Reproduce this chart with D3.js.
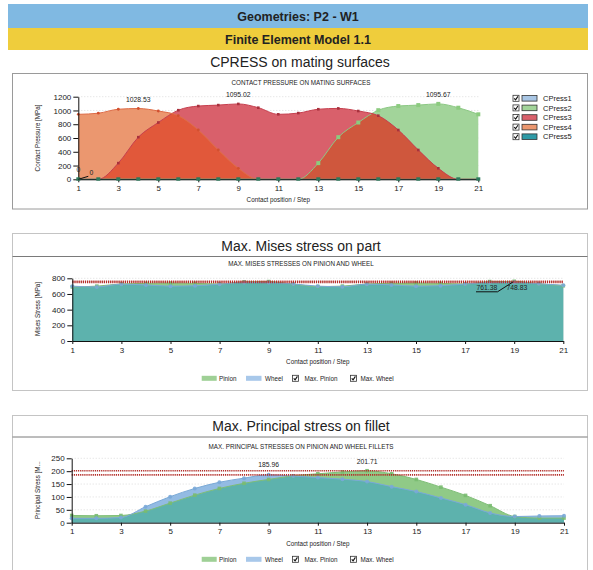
<!DOCTYPE html>
<html>
<head>
<meta charset="utf-8">
<script src="https://cdn.jsdelivr.net/npm/d3@7"></script>
<style>
  body { margin: 0; background: #fff; }
  svg { display: block; font-family: "Liberation Sans", Arial, sans-serif; }
</style>
</head>
<body>
<svg id="c" width="593" height="570"></svg>
<script>
// ---- data ----------------------------------------------------------------
const steps = [1,2,3,4,5,6,7,8,9,10,11,12,13,14,15,16,17,18,19,20,21];
const oddSteps = [1,3,5,7,9,11,13,15,17,19,21];

// Contact pressure on mating surfaces [MPa]
const cpressNames = ["CPress1","CPress2","CPress3","CPress4","CPress5"];
const cpress1 = [0,0,0,0,0,0,0,0,0,0,0,0,0,0,0,0,0,0,0,0,0];
const cpress2 = [0,0,0,0,0,0,0,0,0,0,0,0,235,612,825,1004,1064,1078,1095.67,1040,944];
const cpress3 = [0,0,235,612,825,1004,1064,1078,1095.02,1040,944,962,1018,1030,992,924,716,426,160,0,0];
const cpress4 = [944,960,1018,1028.53,992,924,716,426,160,0,0,0,0,0,0,0,0,0,0,0,0];
const cpress5 = [0,0,0,0,0,0,0,0,0,0,0,0,0,0,0,0,0,0,0,0,0];
const cpressTicks = [0,200,400,600,800,1000,1200];

// Max. Mises stresses on pinion and wheel [MPa]
const misesPinion = [690,700,728,735,740,735,728,755,758,725,695,700,728,736,740,735,728,758,761.38,730,705];
const misesWheel  = [700,690,725,715,700,705,725,748,745,728,700,692,725,716,700,706,726,748,748.83,730,712];
const misesTicks = [0,200,400,600,800];

// Max. principal stresses on pinion and wheel fillets [MPa]
const princPinion = [28,27,28,45,76,107,133,153,168,182,190,197,201.71,190,168,138,106,66,24,18,18];
const princWheel  = [17,17,20,62,101,133,157,173,185.96,181,175,169,160,140,121,96,70,38,24,26,27];
const princTicks = [0,50,100,150,200,250];

// ---- drawing ---------------------------------------------------------------
const svg = d3.select("#c");
const defs = svg.append("defs");
const fmt = d3.format(".2f");
const tickFmt = d3.format("d");
const labelFmt = v => (v === 0 ? "0" : fmt(v));

// header bands
svg.append("rect").attr("x", 8).attr("y", 4).attr("width", 580).attr("height", 24).attr("fill", "#80b9e2");
svg.append("rect").attr("x", 8).attr("y", 28).attr("width", 580).attr("height", 22).attr("fill", "#efcd3c");
svg.append("text").attr("x", 298).attr("y", 20.5).attr("text-anchor", "middle")
  .attr("font-size", 12.5).attr("font-weight", "bold").attr("fill", "#222").text("Geometries: P2 - W1");
svg.append("text").attr("x", 298).attr("y", 43.5).attr("text-anchor", "middle")
  .attr("font-size", 12.5).attr("font-weight", "bold").attr("fill", "#222").text("Finite Element Model 1.1");
svg.append("text").attr("x", 300).attr("y", 67).attr("text-anchor", "middle")
  .attr("font-size", 14).attr("fill", "#222").text("CPRESS on mating surfaces");

function styleAxis(g) {
  g.selectAll("path.domain").attr("stroke", "#111").attr("stroke-width", 1);
  g.selectAll(".tick line").attr("stroke", "#111");
  g.selectAll(".tick text").attr("fill", "#222").attr("font-size", 8)
    .attr("font-family", "'Liberation Sans', Arial, sans-serif");
}

function checkbox(g, x, yc) {
  g.append("rect").attr("x", x).attr("y", yc - 3).attr("width", 6).attr("height", 6)
    .attr("fill", "#fff").attr("stroke", "#333").attr("stroke-width", 0.8);
  g.append("path").attr("d", `M${x + 1.2},${yc} L${x + 2.6},${yc + 1.6} L${x + 4.9},${yc - 1.9}`)
    .attr("fill", "none").attr("stroke", "#111").attr("stroke-width", 1.1);
}

function smallText(g, x, y, txt, anchor = "middle", size = 6.3) {
  return g.append("text").attr("x", x).attr("y", y).attr("text-anchor", anchor)
    .attr("font-size", size).attr("fill", "#222").text(txt);
}

// ---------------- chart 1 : contact pressure ----------------
(function () {
  const g = svg.append("g");
  g.append("rect").attr("x", 12.5).attr("y", 73.5).attr("width", 575).attr("height", 135.5)
    .attr("fill", "#fff").attr("stroke", "#9a9a9a");
  smallText(g, 301, 84.5, "CONTACT PRESSURE ON MATING SURFACES");

  const x = d3.scaleLinear().domain([1, 21]).range([78.3, 478.3]);
  const y = d3.scaleLinear().domain([0, 1200]).range([179.3, 96.7]);

  g.selectAll("line.grid").data(cpressTicks.slice(1)).join("line").attr("class", "grid")
    .attr("x1", x(1)).attr("x2", x(21)).attr("y1", d => y(d)).attr("y2", d => y(d))
    .attr("stroke", "#dcdcdc").attr("stroke-dasharray", "1,2");

  const area = d3.area().x((d, i) => x(steps[i])).y0(y(0)).y1(d => y(d)).curve(d3.curveMonotoneX);
  const line = d3.line().x((d, i) => x(steps[i])).y(d => y(d)).curve(d3.curveMonotoneX);

  defs.append("clipPath").attr("id", "clipC2").append("path").attr("d", area(cpress2));
  defs.append("clipPath").attr("id", "clipC3").append("path").attr("d", area(cpress3));

  g.append("path").attr("d", area(cpress1)).attr("fill", "#a9c6e4");
  g.append("path").attr("d", area(cpress2)).attr("fill", "#a2d49a");
  g.append("path").attr("d", area(cpress3)).attr("fill", "#d9606b");
  g.append("path").attr("d", area(cpress3)).attr("fill", "#cf573d").attr("clip-path", "url(#clipC2)");
  g.append("path").attr("d", area(cpress4)).attr("fill", "#eb976f");
  g.append("path").attr("d", area(cpress4)).attr("fill", "#e1583a").attr("clip-path", "url(#clipC3)");

  // series lines
  g.append("path").attr("d", line(cpress2)).attr("fill", "none").attr("stroke", "#8cc884").attr("stroke-width", 1);
  g.append("path").attr("d", line(cpress3)).attr("fill", "none").attr("stroke", "#c6404f").attr("stroke-width", 1);
  g.append("path").attr("d", line(cpress4)).attr("fill", "none").attr("stroke", "#de6c47").attr("stroke-width", 1);
  g.append("path").attr("d", line(cpress5)).attr("fill", "none").attr("stroke", "#2f8a84").attr("stroke-width", 1);

  // markers
  const pts = arr => arr.map((v, i) => ({ x: steps[i], v })).filter(d => d.v > 0);
  g.selectAll("rect.m2").data(pts(cpress2)).join("rect").attr("class", "m2")
    .attr("x", d => x(d.x) - 2).attr("y", d => y(d.v) - 2).attr("width", 4).attr("height", 4)
    .attr("fill", "#8ccb7f");
  g.selectAll("rect.m3").data(pts(cpress3)).join("rect").attr("class", "m3")
    .attr("x", d => x(d.x) - 1.3).attr("y", d => y(d.v) - 1.3).attr("width", 2.6).attr("height", 2.6)
    .attr("fill", "#a8313d");
  g.selectAll("circle.m4").data(pts(cpress4)).join("circle").attr("class", "m4")
    .attr("cx", d => x(d.x)).attr("cy", d => y(d.v)).attr("r", 1.4).attr("fill", "#d2502f");

  // axes
  const ya = g.append("g").attr("transform", `translate(${x(1)},0)`)
    .call(d3.axisLeft(y).tickValues(cpressTicks).tickFormat(tickFmt).tickSize(5).tickSizeOuter(0).tickPadding(2));
  styleAxis(ya);
  const xa = g.append("g").attr("transform", `translate(0,${y(0)})`)
    .call(d3.axisBottom(x).tickValues(oddSteps).tickFormat(tickFmt).tickSize(3).tickSizeOuter(0).tickPadding(3));
  styleAxis(xa);

  // zero-level markers of CPress5
  g.selectAll("rect.m5").data(cpress5.map((v, i) => ({ x: steps[i], v }))).join("rect").attr("class", "m5")
    .attr("x", d => x(d.x) - 2).attr("y", d => y(d.v) - 2).attr("width", 4).attr("height", 3.4)
    .attr("fill", "#2c7a5c");

  // peak labels
  const series = [cpress1, cpress2, cpress3, cpress4, cpress5];
  const peakOffsets = [[0, -7], [0, -7], [0, -7], [0, -7], [13, -4]];
  series.forEach((s, k) => {
    const i = d3.maxIndex(s);
    const px = x(steps[i]), py = y(s[i]);
    const [dx, dy] = peakOffsets[k];
    if (dx !== 0) {
      g.append("line").attr("x1", px).attr("y1", py).attr("x2", px + dx - 3).attr("y2", py + dy + 1)
        .attr("stroke", "#111").attr("stroke-width", 1);
    }
    smallText(g, px + dx, py + dy, labelFmt(s[i]), "middle", 6.8);
  });

  // axis titles
  smallText(g, 0, 0, "Contact Pressure [MPa]").attr("transform", "translate(40,138) rotate(-90)");
  smallText(g, x(11), 202, "Contact position / Step");

  // legend
  const legColors = ["#a9c6e4", "#a2d49a", "#d9606b", "#eb976f", "#2e9aa6"];
  cpressNames.forEach((n, k) => {
    const yc = 98.3 + k * 9.6;
    checkbox(g, 513, yc);
    g.append("rect").attr("x", 522).attr("y", yc - 2.8).attr("width", 15).attr("height", 5.6)
      .attr("fill", legColors[k]).attr("stroke", "#333").attr("stroke-width", 0.8);
    smallText(g, 543, yc + 2.6, n, "start", 7.5);
  });
})();

// ---------------- charts 2 & 3 : stresses ----------------
function stressChart(o) {
  const g = svg.append("g");
  // panel
  g.append("rect").attr("x", 12.5).attr("y", o.panelTop + 0.5).attr("width", 575).attr("height", o.panelH)
    .attr("fill", "#fff").attr("stroke", "#c4c4c4");
  g.append("line").attr("x1", 12.5).attr("x2", 587.5).attr("y1", o.divider).attr("y2", o.divider)
    .attr("stroke", "#7a7a7a");
  g.append("text").attr("x", 301).attr("y", o.titleY).attr("text-anchor", "middle")
    .attr("font-size", 14).attr("fill", "#222").text(o.title);
  smallText(g, 301, o.subY, o.subtitle);

  const x = d3.scaleLinear().domain([1, 21]).range(o.xr);
  const y = d3.scaleLinear().domain([0, o.ticks[o.ticks.length - 1]]).range(o.yr);

  g.selectAll("line.grid").data(o.ticks.slice(1)).join("line").attr("class", "grid")
    .attr("x1", x(1)).attr("x2", x(21)).attr("y1", d => y(d)).attr("y2", d => y(d))
    .attr("stroke", "#dcdcdc").attr("stroke-dasharray", "1,2");

  const area = d3.area().x((d, i) => x(steps[i])).y0(y(0)).y1(d => y(d)).curve(d3.curveMonotoneX);
  const line = d3.line().x((d, i) => x(steps[i])).y(d => y(d)).curve(d3.curveMonotoneX);

  defs.append("clipPath").attr("id", o.id + "-clip").append("path").attr("d", area(o.pinion));

  g.append("path").attr("d", area(o.pinion)).attr("fill", "#90ca87");
  g.append("path").attr("d", area(o.wheel)).attr("fill", "#93bbe3");
  g.append("path").attr("d", area(o.wheel)).attr("fill", "#5db2ad").attr("clip-path", `url(#${o.id}-clip)`);

  g.append("path").attr("d", line(o.pinion)).attr("fill", "none").attr("stroke", "#7fbe77").attr("stroke-width", 1);
  g.append("path").attr("d", line(o.wheel)).attr("fill", "none").attr("stroke", "#7aa9d6").attr("stroke-width", 1);

  g.selectAll("rect.mp").data(o.pinion).join("rect").attr("class", "mp")
    .attr("x", (d, i) => x(steps[i]) - 1.8).attr("y", d => y(d) - 1.8).attr("width", 3.6).attr("height", 3.6)
    .attr("fill", "#79bb70").attr("opacity", 0.9);
  g.selectAll("circle.mw").data(o.wheel).join("circle").attr("class", "mw")
    .attr("cx", (d, i) => x(steps[i])).attr("cy", d => y(d)).attr("r", 2)
    .attr("fill", "#7aa8d8").attr("opacity", 0.9);

  // maximum lines
  const maxP = d3.max(o.pinion), maxW = d3.max(o.wheel);
  [maxP, maxW].forEach(m => {
    g.append("line").attr("x1", x(1)).attr("x2", x(21)).attr("y1", y(m)).attr("y2", y(m))
      .attr("stroke", "#b42f2a").attr("stroke-width", 1.7).attr("stroke-dasharray", "1.2,0.9");
  });

  // axes
  const ya = g.append("g").attr("transform", `translate(${x(1)},0)`)
    .call(d3.axisLeft(y).tickValues(o.ticks).tickFormat(tickFmt).tickSize(5).tickSizeOuter(0).tickPadding(2));
  styleAxis(ya);
  const xa = g.append("g").attr("transform", `translate(0,${y(0)})`)
    .call(d3.axisBottom(x).tickValues(oddSteps).tickFormat(tickFmt).tickSize(3).tickSizeOuter(0).tickPadding(3));
  styleAxis(xa);

  // max value labels
  o.labels(g, x, y, maxP, maxW);

  smallText(g, 0, 0, o.yTitle).attr("transform", `translate(40,${o.yTitleC}) rotate(-90)`);
  smallText(g, x(11), o.xTitleY, "Contact position / Step");

  // legend
  const ly = o.legendY;
  g.append("rect").attr("x", 201.7).attr("y", ly - 2.5).attr("width", 15).attr("height", 5).attr("fill", "#9fd096");
  smallText(g, 219, ly + 2.2, "Pinion", "start");
  g.append("rect").attr("x", 246).attr("y", ly - 2.5).attr("width", 15.5).attr("height", 5).attr("fill", "#a8c8ea");
  smallText(g, 265, ly + 2.2, "Wheel", "start");
  checkbox(g, 292.5, ly);
  smallText(g, 304.5, ly + 2.2, "Max. Pinion", "start");
  checkbox(g, 350.5, ly);
  smallText(g, 360.5, ly + 2.2, "Max. Wheel", "start");
}

stressChart({
  id: "mises",
  panelTop: 233, panelH: 157, divider: 256.5, titleY: 250.5, subY: 266,
  title: "Max. Mises stress on part",
  subtitle: "MAX. MISES STRESSES ON PINION AND WHEEL",
  pinion: misesPinion, wheel: misesWheel, ticks: misesTicks,
  xr: [72.3, 563.3], yr: [341, 278.3],
  yTitle: "Mises Stress [MPa]", yTitleC: 309, xTitleY: 364, legendY: 378.3,
  labels: (g, x, y, maxP, maxW) => {
    const i = d3.maxIndex(misesPinion);
    const px = x(steps[i]);
    // pinion maximum, underlined callout
    smallText(g, 476.5, 290, fmt(maxP), "start", 6.8);
    g.append("line").attr("x1", 476).attr("x2", 497.5).attr("y1", 291.8).attr("y2", 291.8).attr("stroke", "#111");
    g.append("line").attr("x1", 497.5).attr("y1", 291.8).attr("x2", px - 1).attr("y2", y(maxP) + 0.5).attr("stroke", "#111");
    // wheel maximum
    smallText(g, 506.5, 290, fmt(maxW), "start", 6.8);
  }
});

stressChart({
  id: "princ",
  panelTop: 415, panelH: 170, divider: 437, titleY: 431, subY: 448.5,
  title: "Max. Principal stress on fillet",
  subtitle: "MAX. PRINCIPAL STRESSES ON PINION AND WHEEL FILLETS",
  pinion: princPinion, wheel: princWheel, ticks: princTicks,
  xr: [71.7, 564], yr: [522.7, 458.3],
  yTitle: "Principal Stress [M...", yTitleC: 490, xTitleY: 546, legendY: 559.3,
  labels: (g, x, y, maxP, maxW) => {
    const iw = d3.maxIndex(princWheel), ip = d3.maxIndex(princPinion);
    smallText(g, x(steps[iw]), y(maxW) - 8, fmt(maxW), "middle", 6.8);
    smallText(g, x(steps[ip]), y(maxP) - 7, fmt(maxP), "middle", 6.8);
  }
});
</script>
</body>
</html>
